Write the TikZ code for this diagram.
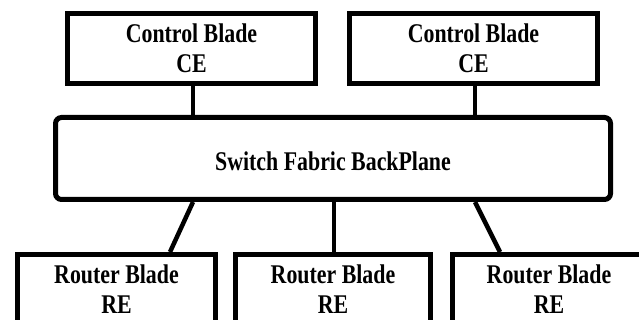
\documentclass[tikz,border=0pt]{standalone}
\usepackage{fontspec}
\setmainfont[FakeStretch=0.81]{Liberation Serif}
\begin{document}
\begin{tikzpicture}[x=1pt,y=-1pt,
  blade/.style={draw, line width=5pt, minimum width=#1, minimum height=70pt,
    inner sep=0pt, align=center, font=\bfseries\fontsize{27}{30}\selectfont},
  drop/.style={execute at begin node={\rule{0pt}{#1}}},
  fabric/.style={draw, line width=5pt, rounded corners=6pt, minimum width=555pt,
    minimum height=82pt, inner sep=0pt, text height=25pt, text depth=0pt,
    font=\bfseries\fontsize{27}{30}\selectfont},
  link/.style={line width=4.5pt}]
  \useasboundingbox (0,0) rectangle (639,320);
  % control blades
  \node[blade=248pt, drop=24pt] (cb1) at (191.5,48.5) {Control Blade\\CE};
  \node[blade=248pt, drop=24pt] (cb2) at (473.5,48.5) {Control Blade\\CE};
  % backplane
  \node[fabric] (sw) at (333,158.5) {Switch Fabric BackPlane};
  % router blades
  \node[blade=198pt, drop=21pt] (rb1) at (116.5,289.5) {Router Blade\\RE};
  \node[blade=195pt, drop=21pt] (rb2) at (333,289.5) {Router Blade\\RE};
  \node[blade=193pt, drop=21pt] (rb3) at (549,289.5) {Router Blade\\RE};
  % links
  \draw[link] ([xshift=1.5pt]cb1.south) -- ([xshift=1.5pt]cb1.south |- sw.north);
  \draw[link] ([xshift=1.5pt]cb2.south) -- ([xshift=1.5pt]cb2.south |- sw.north);
  \draw[link] ([xshift=-140pt]sw.south) -- ([xshift=53.5pt]rb1.north);
  \draw[link] ([xshift=1pt]sw.south) -- ([xshift=1pt]rb2.north);
  \draw[link] ([xshift=142pt]sw.south) -- ([xshift=-49pt]rb3.north);
\end{tikzpicture}
\end{document}
